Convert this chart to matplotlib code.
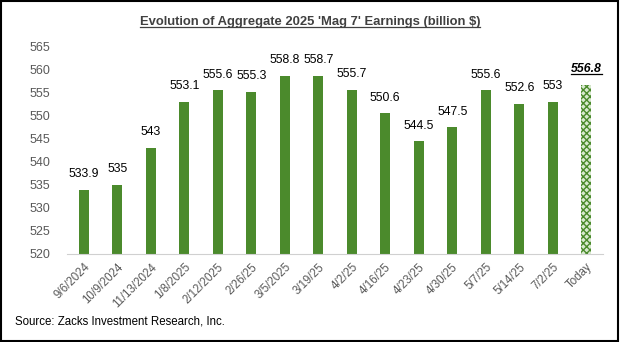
import matplotlib
matplotlib.use("Agg")
import matplotlib.pyplot as plt
from matplotlib.lines import Line2D
from matplotlib.patches import Rectangle

plt.rcParams['font.family'] = ['Liberation Sans', 'DejaVu Sans']
plt.rcParams['hatch.linewidth'] = 1.0

dates = ['9/6/2024', '10/9/2024', '11/13/2024', '1/8/2025', '2/12/2025', '2/26/25',
         '3/5/2025', '3/19/25', '4/2/25', '4/16/25', '4/23/25', '4/30/25',
         '5/7/25', '5/14/25', '7/2/25', 'Today']
earnings = [533.9, 535, 543, 553.1, 555.6, 555.3, 558.8, 558.7, 555.7, 550.6,
            544.5, 547.5, 555.6, 552.6, 553, 556.8]
labels = ['533.9', '535', '543', '553.1', '555.6', '555.3', '558.8', '558.7', '555.7',
          '550.6', '544.5', '547.5', '555.6', '552.6', '553', '556.8']

green = '#4B8A2C'

fig = plt.figure(figsize=(6.2, 3.42), dpi=100)
ax = fig.add_axes([67/620, 1 - 254/342, (603-67)/620, (254-47)/342])

x = list(range(len(dates)))
ax.bar(x[:-1], [v - 520 for v in earnings[:-1]], bottom=520, width=0.31,
       color=green, zorder=2)
ax.bar(x[-1], earnings[-1] - 520, bottom=520, width=0.31, color='#d9ead0',
       edgecolor=green, hatch='xxxxx', linewidth=0, zorder=2)

for i, (v, t) in enumerate(zip(earnings, labels)):
    kw = dict(ha='center', va='bottom', fontsize=8.8, color='black',
              xytext=(0, 7), textcoords='offset points')
    if i == len(earnings) - 1:
        kw.update(fontweight='bold', fontstyle='italic')
    ax.annotate(t, (i, v), **kw)

ax.set_xlim(-0.5, len(dates) - 0.5)
ax.set_ylim(520, 565)
ax.set_yticks(range(520, 566, 5))
ax.set_xticks(x)
ax.set_xticklabels(dates, rotation=45, ha='right', rotation_mode='anchor',
                   color='#404040')
for s in ['top', 'right', 'left']:
    ax.spines[s].set_visible(False)
ax.spines['bottom'].set_color('#d0d0d0')
ax.tick_params(axis='both', length=0, labelsize=9, colors='#595959')
ax.tick_params(axis='x', labelsize=8.3, pad=5)
ax.tick_params(axis='y', pad=12)

title = fig.text(0.5, 1 - 25/342, "Evolution of Aggregate 2025 'Mag 7' Earnings (billion $)",
                 ha='center', va='baseline', fontsize=9.4, fontweight='bold', color='#404040')
fig.text(15/620, 1 - 322/342, 'Source: Zacks Investment Research, Inc.',
         ha='left', va='center', fontsize=8.3, color='black')

fig.add_artist(Rectangle((0.002, 0.003), 0.995, 0.994, transform=fig.transFigure,
                         fill=False, edgecolor='black', linewidth=1.5))

# underline the title and the last value label
fig.canvas.draw()
r = fig.canvas.get_renderer()
for t in [title, ax.texts[-1]]:
    bb = t.get_window_extent(r).transformed(fig.transFigure.inverted())
    yy = bb.y0 + 0.002
    fig.add_artist(Line2D([bb.x0, bb.x1], [yy, yy], transform=fig.transFigure,
                          color=t.get_color(), linewidth=0.9))

fig.savefig('out.png', dpi=100)
